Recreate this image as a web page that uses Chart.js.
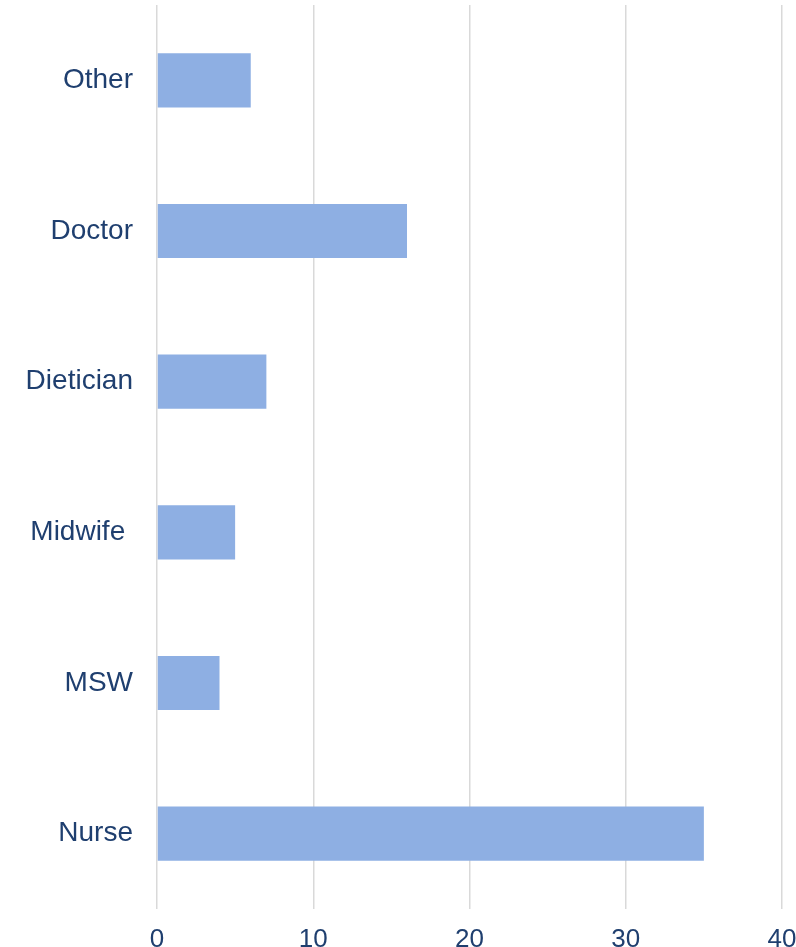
<!DOCTYPE html>
<html>
<head>
<meta charset="utf-8">
<script src="https://cdn.jsdelivr.net/npm/chart.js@4.4.0/dist/chart.umd.min.js"></script>
<style>
  html, body { margin: 0; padding: 0; background: #fff; }
  #wrap { width: 796px; height: 947px; }
</style>
</head>
<body>
<div id="wrap"><canvas id="chart"></canvas></div>
<script>
const professions = ["Other", "Doctor", "Dietician", "Midwife ", "MSW", "Nurse"];
const counts = [6, 16, 7, 5, 4, 35];
const xTicks = [0, 10, 20, 30, 40];

const textColor = "#1F3F6F";
const gridColor = "#D9D9D9";

const chart = new Chart(document.getElementById("chart"), {
  type: "bar",
  data: {
    labels: professions,
    datasets: [{
      data: counts,
      backgroundColor: "#8EAFE3",
      borderWidth: 0,
      categoryPercentage: 1,
      barPercentage: 0.36
    }]
  },
  options: {
    indexAxis: "y",
    responsive: true,
    maintainAspectRatio: false,
    animation: false,
    layout: { padding: { top: 5, right: 14, left: 0, bottom: 0 } },
    plugins: {
      legend: { display: false },
      tooltip: { enabled: false }
    },
    scales: {
      x: {
        min: 0,
        max: 40,
        afterBuildTicks: (scale) => {
          scale.ticks = xTicks.map(v => ({ value: v }));
        },
        afterFit: (scale) => {
          scale.height = 38;
          scale.paddingLeft = 0;
          scale.paddingRight = 0;
        },
        grid: { color: gridColor, lineWidth: 1.5, drawTicks: false },
        border: { display: false },
        ticks: {
          color: textColor,
          padding: 15,
          maxRotation: 0,
          font: { family: "Liberation Sans, Arial, sans-serif", size: 26 }
        }
      },
      y: {
        afterFit: (scale) => {
          scale.width = 157;
          scale.paddingTop = 0;
          scale.paddingBottom = 0;
        },
        grid: { display: false, drawTicks: false },
        border: { display: false },
        ticks: {
          color: textColor,
          padding: 24,
          font: { family: "Liberation Sans, Arial, sans-serif", size: 28 }
        }
      }
    }
  }
});
</script>
</body>
</html>
